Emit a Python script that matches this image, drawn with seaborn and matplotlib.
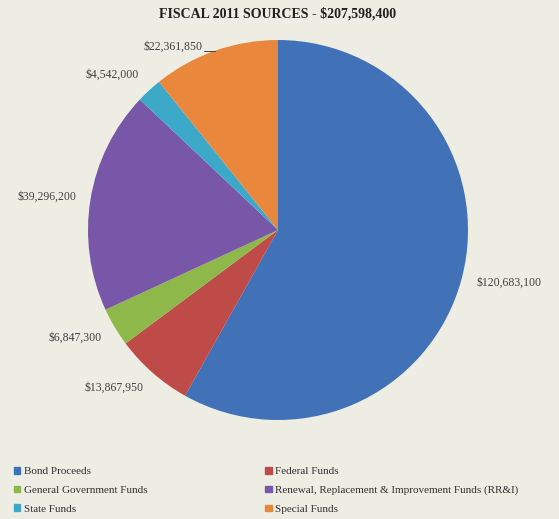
import numpy as np
import matplotlib
matplotlib.use("Agg")
import matplotlib.pyplot as plt
import seaborn as sns

categories = [
    "Bond Proceeds",
    "Federal Funds",
    "General Government Funds",
    "Renewal, Replacement & Improvement Funds (RR&I)",
    "State Funds",
    "Special Funds",
]
amounts = [120683100, 13867950, 6847300, 39296200, 4542000, 22361850]
title = "FISCAL 2011 SOURCES - $207,598,400"

colors = ["#4172B8", "#BE4B48", "#8FB84A", "#7957A8", "#3DA9C8", "#E9883D"]
bg = "#EEEDE4"

sns.set_theme(style="white")
plt.rcParams["font.family"] = ["Liberation Serif", "DejaVu Serif"]

fig = plt.figure(figsize=(5.59, 5.19), dpi=100, facecolor=bg)
R = 190
cx, cy = 278, 230
ax = fig.add_axes([(cx - R) / 559, (519 - cy - R) / 519, 2 * R / 559, 2 * R / 519])
ax.set_facecolor(bg)

wedges, _ = ax.pie(amounts, colors=colors, startangle=90, counterclock=False,
                   radius=1, wedgeprops=dict(linewidth=0))
ax.set_xlim(-1, 1)
ax.set_ylim(-1, 1)
ax.set_aspect("equal")
ax.axis("off")

# label radial distance and angular nudge per slice
label_dist = [1.245, 1.20, 1.21, 1.23, 1.195, 1.11]
label_nudge = [1.7, -4.8, -2.9, 1.2, 4.3, 10.4]
for w, amt, d, nd in zip(wedges, amounts, label_dist, label_nudge):
    ang = np.deg2rad((w.theta1 + w.theta2) / 2 + nd)
    x, y = d * np.cos(ang), d * np.sin(ang)
    ax.text(x, y, f"${amt:,.0f}", ha="center", va="center", fontsize=8.5,
            color="#404040", clip_on=False)

# leader line for the Special Funds label
w = wedges[5]
ang = np.deg2rad((w.theta1 + w.theta2) / 2)
ex, ey = np.cos(ang), np.sin(ang)
ax.plot([ex - 0.06, ex], [ey, ey], color="#404040", lw=0.7, clip_on=False)

fig.text(0.497, 1 - 14 / 519, title, ha="center", va="center", fontsize=10,
         fontweight="bold", color="#202020")

handles = [plt.Rectangle((0, 0), 1, 1, color=c) for c in colors]
order = [0, 2, 4, 1, 3, 5]
leg = fig.legend([handles[i] for i in order], [categories[i] for i in order],
                 ncol=2, loc="lower left", bbox_to_anchor=(4 / 559, -5 / 519),
                 frameon=False, fontsize=8, handlelength=0.55, handleheight=0.55,
                 handletextpad=0.35, columnspacing=10.6, labelspacing=0.85,
                 labelcolor="#303030")

fig.savefig("out.png", dpi=100, facecolor=bg)
